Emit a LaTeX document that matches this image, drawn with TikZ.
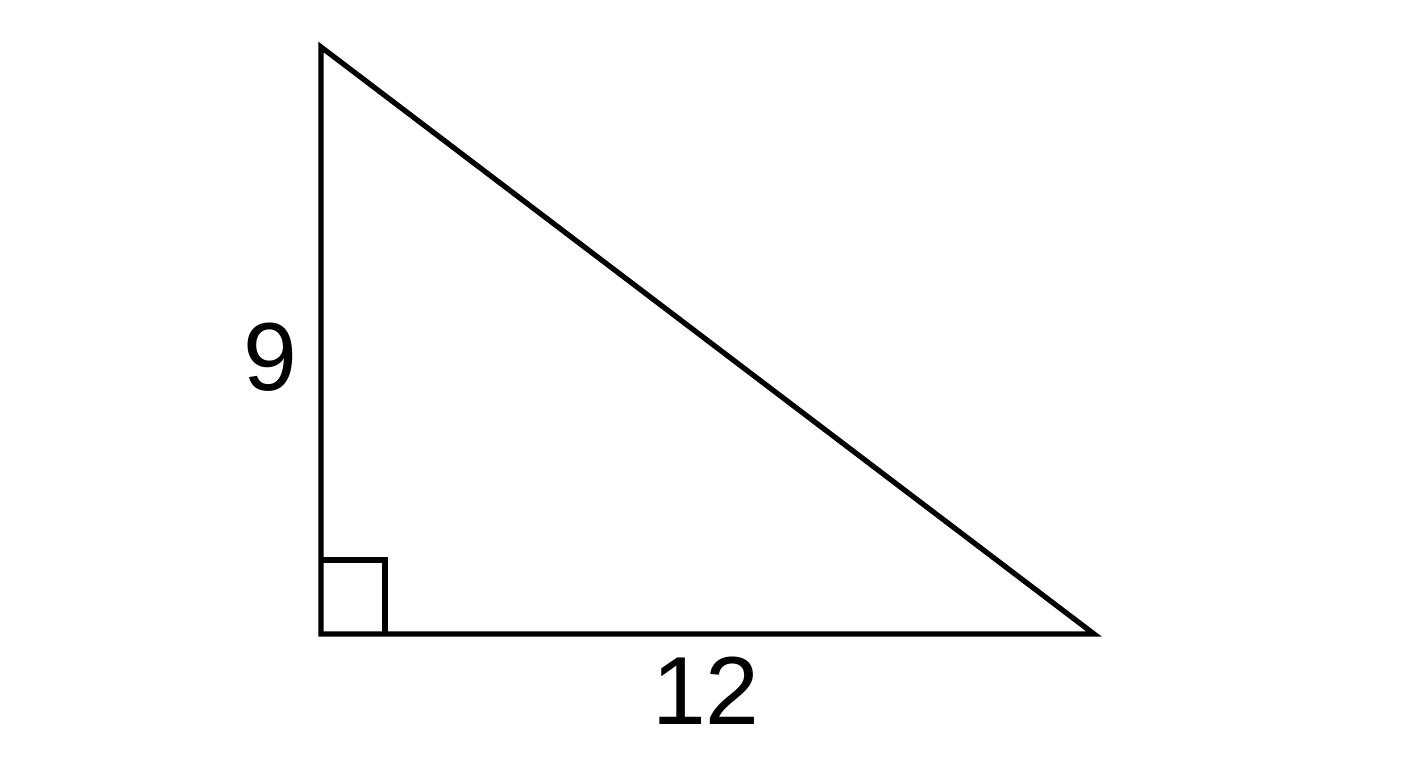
\documentclass[tikz,border=0pt]{standalone}
\usepackage{fontspec}
\setmainfont{Liberation Sans}
\tikzset{%
  side/.style  = {draw=black, line width=1.5pt, line join=miter},%
  lbl/.style   = {font=\fontsize{27.5}{33}\selectfont, inner sep=0pt}%
}

\begin{document}
\begin{tikzpicture}[x=0.01cm,y=-0.01cm]
	\useasboundingbox (0,0) rectangle (1408,768);
	\coordinate (A) at (321,47);
	\coordinate (C) at (321,634);
	\coordinate (B) at (1094,634);
	\draw [side] (A) -- (C) -- (B) -- cycle;
	% right angle
	\coordinate (Cup) at (321,560);
	\coordinate (Cright) at (385,634);
	\draw [side] (Cup) -| (Cright);
	\node [lbl] (nine) at (270,357) {9};
	\node [lbl] (twelve) at (706,691) {12};
\end{tikzpicture}
\end{document}
